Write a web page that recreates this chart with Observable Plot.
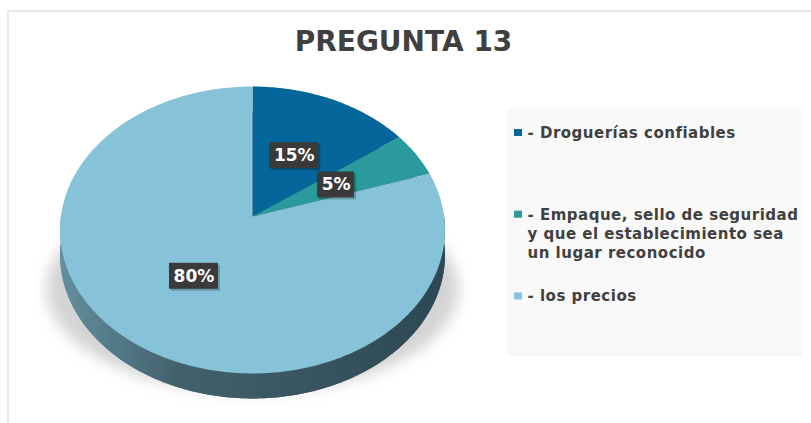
<!DOCTYPE html>
<html><head><meta charset="utf-8">
<script src="https://cdn.jsdelivr.net/npm/d3@7"></script>
<script src="https://cdn.jsdelivr.net/npm/@observablehq/plot@0.6"></script>
<style>
body{margin:0;background:#fff;overflow:hidden}
#chart{width:811px;height:423px}
</style>
</head><body><div id="chart"></div>
<script>
// ---- data ----
const title = "PREGUNTA 13";
const categories = ["Droguerías confiables", "Empaque, sello de seguridad y que el establecimiento sea un lugar reconocido", "los precios"];
const legendLines = [
  ["- Droguerías confiables"],
  ["- Empaque, sello de seguridad", "y que el establecimiento sea", "un lugar reconocido"],
  ["- los precios"]
];
const values = [15, 5, 80];
const valueLabels = ["15%", "5%", "80%"];
const colors = ["#04669a", "#2a9a9d", "#86c3d8"];

// ---- layout / geometry ----
const W = 811, H = 423;
const CX = 252, CY = 216, A = 191.6, B = 142.2, K = 0.094, DEPTH = 25;
const rad = Math.PI / 180;
function project(theta, r = 1, dz = 0) {
  const t = -Math.cos(theta) * r, u = Math.sin(theta) * r;
  const d = 1 - K * t;
  return {x: CX + A * u / d, y: CY + B * t / d + dz};
}
const arcs = d3.pie().sort(null).value(d => d)(values);

// top face slices
const slicePts = [];
arcs.forEach((a, i) => {
  slicePts.push({i, ...project(0, 0)});
  const n = Math.max(2, Math.ceil((a.endAngle - a.startAngle) / rad));
  for (let j = 0; j <= n; j++) slicePts.push({i, ...project(a.startAngle + (a.endAngle - a.startAngle) * j / n)});
});

// side (extrusion)
const sidePts = [];
for (let d = 0; d <= 360; d++) sidePts.push({g: "base", ...project(d * rad, 1, DEPTH)});
for (let d = 88; d <= 272; d++) sidePts.push({g: "band", ...project(d * rad, 1, 0)});
for (let d = 272; d >= 88; d--) sidePts.push({g: "band", ...project(d * rad, 1, DEPTH)});

// drop shadow ellipse
const shadowPts = [];
for (let d = 0; d <= 360; d += 2) shadowPts.push({x: CX + 206 * Math.sin(d * rad), y: 288 - 104 * Math.cos(d * rad)});

// value labels
const labelRows = arcs.map((a, i) => {
  const p = project((a.startAngle + a.endAngle) / 2, 0.5);
  const w = valueLabels[i].length * 12 + 13;
  return {...p, text: valueLabels[i], w};
});

// legend rows
const LX = 527, LY0 = 132.5, LSTEP = 81.7, LLINE = 19.4;
const legendText = [], legendSwatch = [];
legendLines.forEach((lines, i) => {
  const y0 = LY0 + i * LSTEP;
  legendSwatch.push({y: y0, color: colors[i], cat: categories[i]});
  lines.forEach((t, j) => legendText.push({x: LX, y: y0 + j * LLINE, text: t}));
});

const FONT = "DejaVu Sans";
const plot = Plot.plot({
  width: W, height: H, margin: 0,
  x: {domain: [0, W], range: [0, W], axis: null},
  y: {domain: [0, H], range: [0, H], axis: null},
  style: {background: "#fff", overflow: "hidden"},
  marks: [
    // outer frame
    Plot.rect([0], {x1: 8, x2: W + 10, y1: 11, y2: H + 10, fill: "#fff", stroke: "#e8e8e8", strokeWidth: 2}),
    // legend panel
    Plot.rect([0], {x1: 507, x2: 802, y1: 108, y2: 355.5, fill: "#eeeeee", fillOpacity: 0.6}),
    Plot.rect([0], {x1: 507, x2: 802, y1: 108, y2: 354, fill: "#f9f9f9"}),
    // shadow
    Plot.line(shadowPts, {x: "x", y: "y", fill: "#a8a8a8", fillOpacity: 0.5, stroke: "none", curve: "linear-closed", ariaDescription: "pie-shadow"}),
    // side
    Plot.line(sidePts, {x: "x", y: "y", z: "g", fill: "url(#sideGrad)", stroke: "none", curve: "linear-closed"}),
    // top face
    Plot.line(slicePts, {x: "x", y: "y", z: "i", fill: d => colors[d.i], stroke: "none", curve: "linear-closed"}),
    // value label boxes
    Plot.rect(labelRows, {x1: d => d.x - d.w / 2 + 2, x2: d => d.x + d.w / 2 + 2, y1: d => d.y - 13 + 2, y2: d => d.y + 13 + 2, fill: "#000", fillOpacity: 0.22}),
    Plot.rect(labelRows, {x1: d => d.x - d.w / 2, x2: d => d.x + d.w / 2, y1: d => d.y - 13, y2: d => d.y + 13, fill: "#3a3a3a"}),
    Plot.text(labelRows, {x: "x", y: "y", text: "text", fill: "#fff", fontSize: 17, fontWeight: "bold", fontFamily: FONT}),
    // title
    Plot.text([title], {x: () => 403, y: () => 42, text: d => d, fill: "#404040", fontSize: 28, fontWeight: "bold", fontFamily: FONT}),
    // legend
    Plot.rect(legendSwatch, {x1: 514, x2: 522, y1: d => d.y - 3.5, y2: d => d.y + 3.5, fill: "color"}),
    Plot.text(legendText, {x: "x", y: "y", text: "text", textAnchor: "start", fill: "#404040", fontSize: 15, fontWeight: "bold", fontFamily: FONT, ariaDescription: "legend-text"})
  ]
});

const svg = d3.select(plot);
const defs = svg.insert("defs", ":first-child");
defs.html(`
  <linearGradient id="sideGrad" gradientUnits="userSpaceOnUse" x1="60" y1="0" x2="445" y2="0">
    <stop offset="0" stop-color="#638f9e"/>
    <stop offset="0.3" stop-color="#42616d"/>
    <stop offset="1" stop-color="#2c4852"/>
  </linearGradient>
  <filter id="blurShadow" x="-20%" y="-20%" width="140%" height="140%">
    <feGaussianBlur stdDeviation="7"/>
  </filter>`);
svg.select('g[aria-description="pie-shadow"]').attr("filter", "url(#blurShadow)");
svg.select('g[aria-description="legend-text"]').style("letter-spacing", "0.5px");
document.getElementById("chart").append(plot);
</script>
</body></html>
